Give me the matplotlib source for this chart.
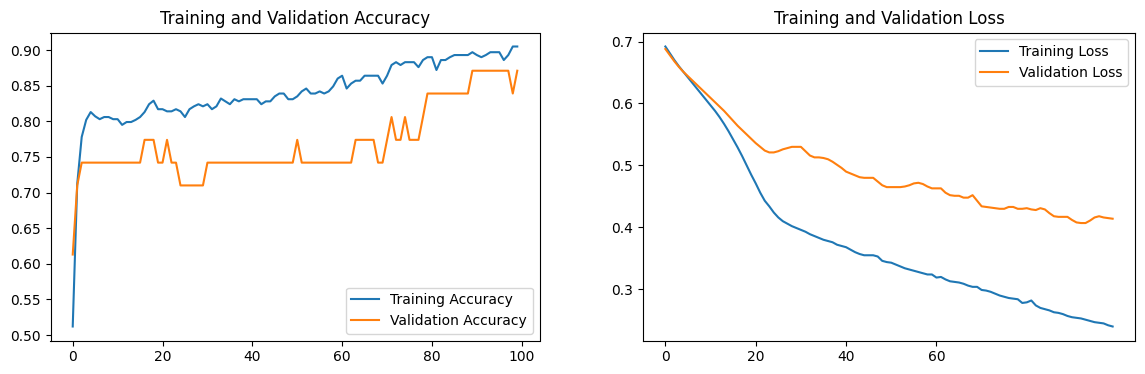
import matplotlib
matplotlib.use("Agg")
import matplotlib.pyplot as plt

# Training history (100 epochs)
epochs = list(range(100))

acc = [0.512, 0.712, 0.778, 0.802, 0.813, 0.807, 0.803, 0.806, 0.806, 0.803,
       0.803, 0.795, 0.799, 0.799, 0.802, 0.806, 0.813, 0.824, 0.829, 0.817,
       0.817, 0.814, 0.814, 0.817, 0.814, 0.806, 0.817, 0.821, 0.824, 0.821,
       0.824, 0.817, 0.821, 0.832, 0.828, 0.824, 0.831, 0.828, 0.831, 0.831,
       0.831, 0.831, 0.824, 0.828, 0.828, 0.835, 0.839, 0.839, 0.831, 0.831,
       0.835, 0.842, 0.846, 0.839, 0.839, 0.842, 0.839, 0.842, 0.849, 0.860,
       0.864, 0.846, 0.853, 0.857, 0.857, 0.864, 0.864, 0.864, 0.864, 0.853,
       0.864, 0.879, 0.883, 0.879, 0.883, 0.883, 0.883, 0.876, 0.886, 0.890,
       0.890, 0.872, 0.886, 0.886, 0.890, 0.893, 0.893, 0.893, 0.893, 0.897,
       0.893, 0.890, 0.893, 0.897, 0.897, 0.897, 0.886, 0.893, 0.905, 0.905]

val_acc = [0.613, 0.710, 0.742, 0.742, 0.742, 0.742, 0.742, 0.742, 0.742, 0.742,
           0.742, 0.742, 0.742, 0.742, 0.742, 0.742, 0.774, 0.774, 0.774, 0.742,
           0.742, 0.774, 0.742, 0.742, 0.710, 0.710, 0.710, 0.710, 0.710, 0.710,
           0.742, 0.742, 0.742, 0.742, 0.742, 0.742, 0.742, 0.742, 0.742, 0.742,
           0.742, 0.742, 0.742, 0.742, 0.742, 0.742, 0.742, 0.742, 0.742, 0.742,
           0.774, 0.742, 0.742, 0.742, 0.742, 0.742, 0.742, 0.742, 0.742, 0.742,
           0.742, 0.742, 0.742, 0.774, 0.774, 0.774, 0.774, 0.774, 0.742, 0.742,
           0.774, 0.806, 0.774, 0.774, 0.806, 0.774, 0.774, 0.774, 0.806, 0.839,
           0.839, 0.839, 0.839, 0.839, 0.839, 0.839, 0.839, 0.839, 0.839, 0.871,
           0.871, 0.871, 0.871, 0.871, 0.871, 0.871, 0.871, 0.871, 0.839, 0.871]

loss = [0.692, 0.681, 0.670, 0.660, 0.651, 0.642, 0.633, 0.624, 0.615, 0.606,
        0.597, 0.588, 0.578, 0.567, 0.555, 0.542, 0.529, 0.515, 0.500, 0.485,
        0.471, 0.456, 0.443, 0.434, 0.424, 0.416, 0.410, 0.406, 0.402, 0.399,
        0.396, 0.393, 0.389, 0.386, 0.383, 0.380, 0.378, 0.376, 0.372, 0.370,
        0.368, 0.364, 0.360, 0.357, 0.355, 0.355, 0.355, 0.353, 0.346, 0.344,
        0.343, 0.340, 0.337, 0.334, 0.332, 0.330, 0.328, 0.326, 0.324, 0.324,
        0.319, 0.320, 0.316, 0.313, 0.312, 0.311, 0.309, 0.306, 0.304, 0.304,
        0.299, 0.298, 0.296, 0.293, 0.290, 0.288, 0.286, 0.285, 0.284, 0.278,
        0.279, 0.282, 0.274, 0.270, 0.268, 0.266, 0.263, 0.262, 0.260, 0.257,
        0.255, 0.254, 0.253, 0.251, 0.249, 0.247, 0.246, 0.245, 0.242, 0.240]

val_loss = [0.688, 0.678, 0.668, 0.659, 0.651, 0.644, 0.637, 0.630, 0.623, 0.616,
            0.609, 0.602, 0.595, 0.588, 0.580, 0.572, 0.564, 0.557, 0.550, 0.543,
            0.536, 0.530, 0.524, 0.521, 0.521, 0.523, 0.526, 0.528, 0.530, 0.530,
            0.530, 0.523, 0.516, 0.513, 0.513, 0.512, 0.510, 0.506, 0.501, 0.496,
            0.490, 0.487, 0.484, 0.481, 0.480, 0.480, 0.480, 0.474, 0.468, 0.465,
            0.465, 0.465, 0.465, 0.466, 0.468, 0.471, 0.472, 0.470, 0.466, 0.463,
            0.463, 0.463, 0.456, 0.452, 0.451, 0.451, 0.448, 0.448, 0.452, 0.443,
            0.434, 0.433, 0.432, 0.431, 0.430, 0.430, 0.433, 0.433, 0.430, 0.430,
            0.431, 0.429, 0.428, 0.431, 0.429, 0.423, 0.418, 0.417, 0.417, 0.417,
            0.412, 0.408, 0.407, 0.407, 0.411, 0.416, 0.418, 0.416, 0.415, 0.414]

fig = plt.figure(figsize=(11.45, 3.74), dpi=100)
W, H = 1145, 374

# Accuracy plot
ax1 = fig.add_axes([50.5 / W, (H - 340.5) / H, 489 / W, 308 / H])
ax1.plot(epochs, acc, label="Training Accuracy")
ax1.plot(epochs, val_acc, label="Validation Accuracy")
ax1.legend(loc="lower right")
ax1.set_title("Training and Validation Accuracy")

# Loss plot
ax2 = fig.add_axes([643 / W, (H - 340.5) / H, 492 / W, 308 / H])
ax2.plot(epochs, loss, label="Training Loss")
ax2.plot(epochs, val_loss, label="Validation Loss")
ax2.legend(loc="upper right")
ax2.set_title("Training and Validation Loss")
ax2.set_xticks([0, 20, 40, 60])

fig.savefig("out.png", dpi=100)
